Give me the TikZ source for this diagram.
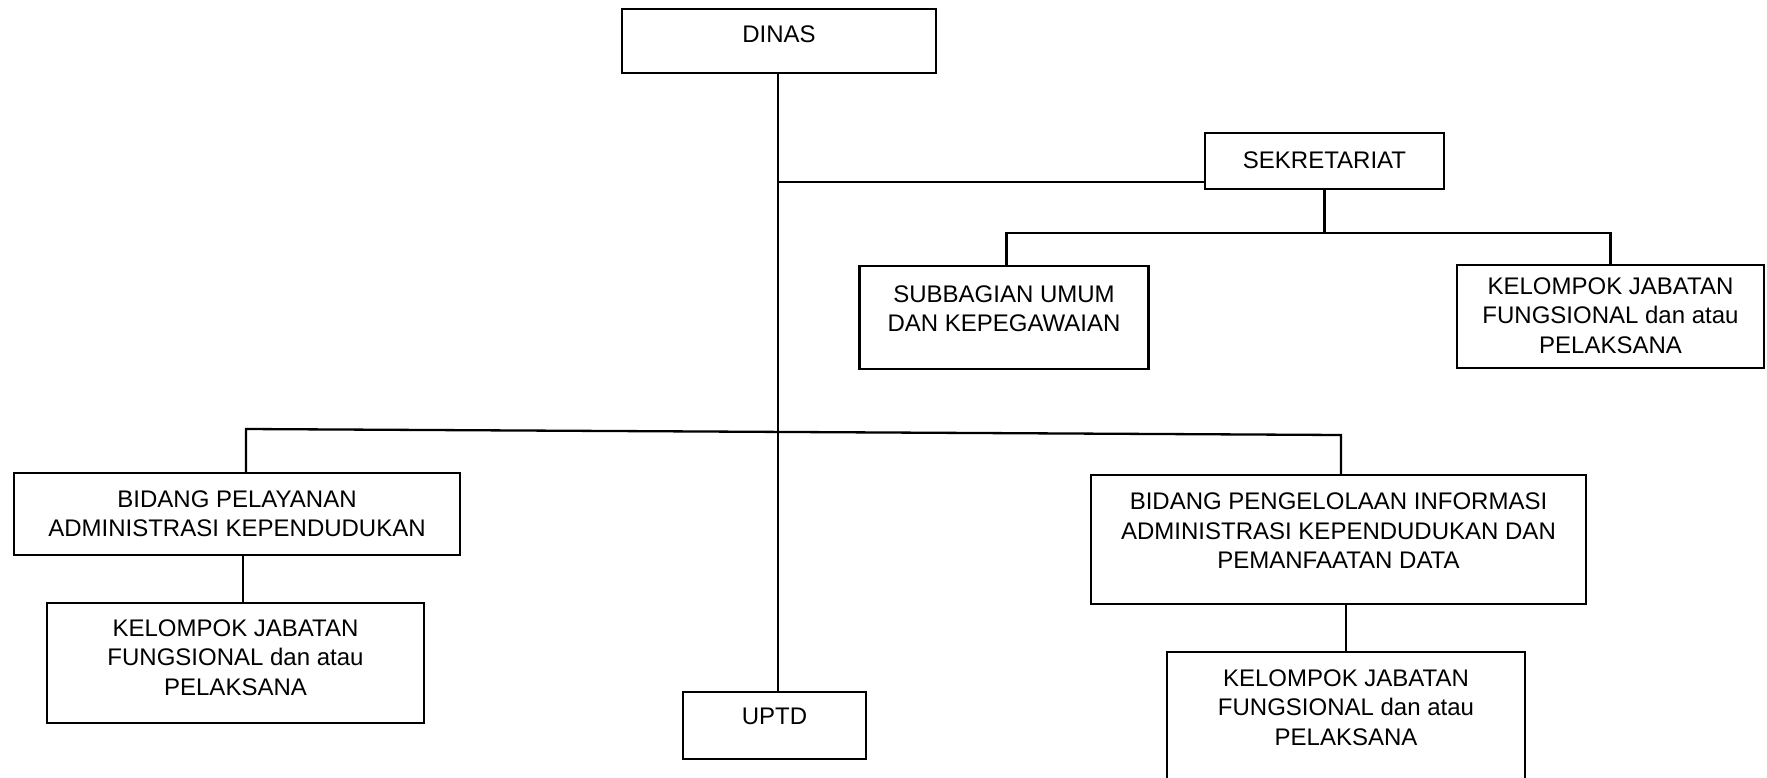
\documentclass[tikz,border=0pt]{standalone}
\usepackage{fontspec}
\setmainfont{Liberation Sans}
\begin{document}
\begin{tikzpicture}[x=1pt,y=-1pt,
  box/.style={draw=black, line width=2.3pt, inner sep=0pt, fill=none},
  txt/.style={inner sep=0pt, align=center, font=\fontsize{24}{29.5}\selectfont},
  link/.style={draw=black, line width=2.3pt}]
\useasboundingbox (0,0) rectangle (1767,777);
\clip (0,0) rectangle (1767,777);
\fill[white] (0,0) rectangle (1767,777);

% boxes
\node[box, minimum width=314pt, minimum height=64pt]  (dinas) at (779,41) {};
\node[box, minimum width=239pt, minimum height=56pt]  (sek)   at (1324.5,161) {};
\node[box, minimum width=289pt, minimum height=103pt] (sub)   at (1004,317.5) {};
\node[box, minimum width=307pt, minimum height=103pt] (kjf1)  at (1610.5,316.5) {};
\node[box, minimum width=446pt, minimum height=82pt]  (bpad)  at (237,514) {};
\node[box, minimum width=377pt, minimum height=120pt] (kjf2)  at (235.5,663) {};
\node[box, minimum width=495pt, minimum height=129pt] (bpip)  at (1338.5,539.5) {};
\node[box, minimum width=358pt, minimum height=160pt] (kjf3)  at (1346,732) {};
\node[box, minimum width=183pt, minimum height=67pt]  (uptd)  at (774.5,725.5) {};

% texts
\node[txt] (dinas-t) at (779,34) {DINAS};
\node[txt] (sek-t)   at (1324.5,160) {SEKRETARIAT};
\node[txt] (sub-t)   at (1004,308.5) {SUBBAGIAN UMUM\\DAN KEPEGAWAIAN};
\node[txt] (kjf1-t)  at (1610.5,315.5) {KELOMPOK JABATAN\\FUNGSIONAL dan atau\\PELAKSANA};
\node[txt] (bpad-t)  at (237,513.5) {BIDANG PELAYANAN\\ADMINISTRASI KEPENDUDUKAN};
\node[txt] (kjf2-t)  at (235.5,657.5) {KELOMPOK JABATAN\\FUNGSIONAL dan atau\\PELAKSANA};
\node[txt] (bpip-t)  at (1338.5,531) {BIDANG PENGELOLAAN INFORMASI\\ADMINISTRASI KEPENDUDUKAN DAN\\PEMANFAATAN DATA};
\node[txt] (kjf3-t)  at (1346,707.5) {KELOMPOK JABATAN\\FUNGSIONAL dan atau\\PELAKSANA};
\node[txt] (uptd-t)  at (774.5,716.5) {UPTD};

% junction points
\coordinate (trunk) at (778,73);
\coordinate (sekin) at (sek.west |- 0,182);
\coordinate (sekfork) at (1324.5,233);
\coordinate (busL) at (246,429);
\coordinate (busR) at (1341,435);

% main trunk down to UPTD
\draw[link] (trunk) -- (trunk |- uptd.north);
% secretariat branch
\draw[link] (trunk |- sekin) -- (sekin);
\draw[link] (sek.south) -- (sekfork);
\draw[link] (sub.north -| 1006.5,0) |- (sekfork) -| (kjf1.north);
% field bus
\draw[link] (bpad.north -| busL) -- (busL) -- (busR) -- (bpip.north -| busR);
% field subordinates
\draw[link] (bpad.south -| 243,0) -- (kjf2.north -| 243,0);
\draw[link] (bpip.south -| kjf3.north) -- (kjf3.north);
\end{tikzpicture}
\end{document}
